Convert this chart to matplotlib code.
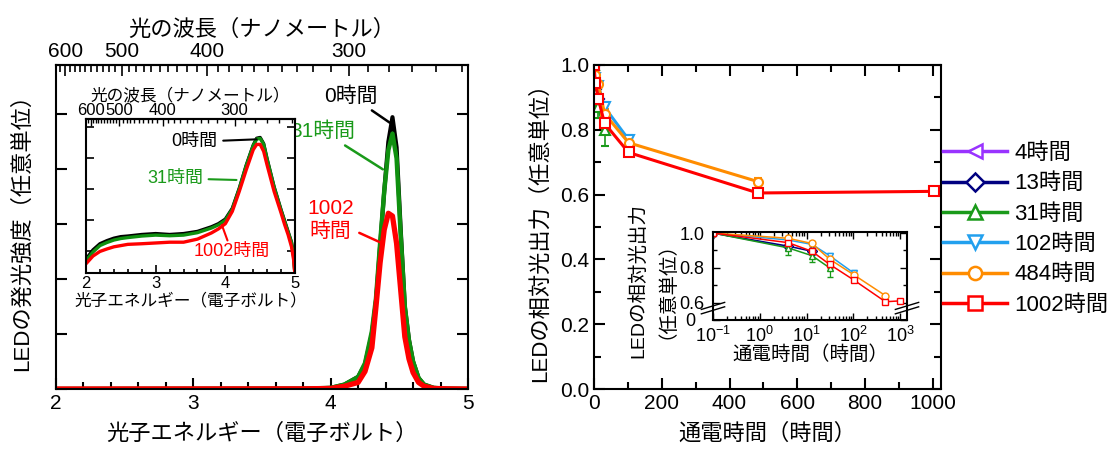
import numpy as np
import matplotlib
matplotlib.use("Agg")
import matplotlib.pyplot as plt
from matplotlib.lines import Line2D
from matplotlib.ticker import MultipleLocator, FixedLocator, NullFormatter, LogLocator

plt.rcParams['font.family'] = ['Liberation Sans', 'Noto Sans CJK JP']
plt.rcParams['mathtext.fontset'] = 'custom'
plt.rcParams['mathtext.rm'] = 'Liberation Sans'
plt.rcParams['mathtext.it'] = 'Liberation Sans:italic'
plt.rcParams['mathtext.bf'] = 'Liberation Sans:bold'
plt.rcParams['xtick.direction'] = 'in'
plt.rcParams['ytick.direction'] = 'in'
plt.rcParams['axes.linewidth'] = 1.5

# --- emission spectra (main, linear scale) ---
energy = [2.0, 3.8, 4.0, 4.1, 4.2, 4.25, 4.3, 4.33, 4.36, 4.39, 4.42, 4.45,
          4.48, 4.51, 4.54, 4.57, 4.6, 4.64, 4.68, 4.75, 4.85, 5.0]
spec_0h = [0, 0.005, 0.02, 0.08, 0.22, 0.45, 1.0, 1.6, 2.6, 3.6, 4.5, 4.95,
           4.4, 2.9, 1.5, 0.9, 0.5, 0.2, 0.08, 0.02, 0.005, 0]
spec_31h = [0, 0.005, 0.02, 0.08, 0.22, 0.47, 1.05, 1.65, 2.65, 3.6, 4.35, 4.65,
            4.2, 2.8, 1.5, 0.88, 0.5, 0.2, 0.08, 0.02, 0.005, 0]
spec_1002h = [0, 0.003, 0.01, 0.05, 0.12, 0.32, 0.75, 1.5, 2.3, 2.9, 3.2, 3.15,
              2.65, 1.8, 0.95, 0.55, 0.3, 0.12, 0.05, 0.01, 0.003, 0]

# --- emission spectra (inset, log10 of intensity) ---
inset_energy = [2.0, 2.1, 2.2, 2.3, 2.4, 2.5, 2.6, 2.8, 3.0, 3.2, 3.4, 3.6, 3.8, 3.9,
                4.0, 4.1, 4.2, 4.3, 4.4, 4.45, 4.5, 4.55, 4.6, 4.7, 4.8, 4.85, 4.9,
                4.95, 4.98, 5.0]
inset_log_0h = [-3.28, -2.98, -2.78, -2.68, -2.6, -2.55, -2.53, -2.48, -2.45, -2.48,
                -2.45, -2.38, -2.23, -2.13, -1.98, -1.63, -0.98, -0.23, 0.42, 0.645,
                0.67, 0.47, -0.03, -0.93, -1.68, -2.03, -2.38, -2.73, -3.13, -3.8]
inset_log_31h = [-3.33, -3.05, -2.84, -2.74, -2.66, -2.61, -2.58, -2.53, -2.5, -2.52,
                 -2.5, -2.42, -2.27, -2.17, -2.02, -1.66, -1.0, -0.25, 0.4, 0.62,
                 0.64, 0.45, -0.05, -0.95, -1.7, -2.05, -2.4, -2.75, -3.2, -3.8]
inset_log_1002h = [-3.43, -3.18, -3.03, -2.95, -2.88, -2.84, -2.8, -2.78, -2.755, -2.73,
                   -2.73, -2.63, -2.43, -2.3, -2.13, -1.73, -1.08, -0.38, 0.27, 0.445,
                   0.445, 0.22, -0.23, -1.08, -1.78, -2.15, -2.48, -2.88, -3.3, -3.8]

wl_major = [600, 500, 400, 300]

# --- relative output vs. operation time ---
hours = [0, 4, 13, 31, 102, 484, 1002]
series_labels = ['4時間', '13時間', '31時間', '102時間', '484時間', '1002時間']
out_4h = [1.0, 0.92]
out_13h = [1.0, 0.925, 0.895]
out_31h = [1.0, 0.915, 0.87, 0.80]
out_102h = [1.0, 0.96, 0.935, 0.87, 0.77]
out_484h = [1.0, 0.97, 0.94, 0.85, 0.76, 0.64]
out_1002h = [1.0, 0.945, 0.895, 0.82, 0.73, 0.605, 0.61]
err_4h = [0, 0.02]
err_13h = [0, 0.02, 0.02]
err_31h = [0, 0.04, 0.035, 0.05]
err_102h = [0, 0.01, 0.01, 0.015, 0.015]
err_484h = [0, 0.01, 0.01, 0.015, 0.01, 0.01]
err_1002h = [0, 0.01, 0.01, 0.02, 0.01, 0.008, 0.005]

outputs = [out_4h, out_13h, out_31h, out_102h, out_484h, out_1002h]
errors = [err_4h, err_13h, err_31h, err_102h, err_484h, err_1002h]
colors = ['#9933ff', '#000080', '#1a9a1a', '#22a0ee', '#ff8c00', '#ff0000']
markers = ['<', 'D', '^', 'v', 'o', 's']

W, H = 1113, 461
fig = plt.figure(figsize=(W / 100, H / 100), dpi=100)


def rect(x0, y0, x1, y1):
    return [x0 / W, 1 - y1 / H, (x1 - x0) / W, (y1 - y0) / H]


def ev_nm(x):
    x = np.asarray(x, dtype=float)
    with np.errstate(divide='ignore'):
        return 1239.84 / x


# ================= left panel =================
ax1 = fig.add_axes(rect(56, 65, 468, 389))
ax1.plot(energy, spec_0h, color='black', lw=3.0)
ax1.plot(energy, spec_31h, color='#109010', lw=3.2)
ax1.plot(energy, spec_1002h, color='#ff0000', lw=3.8)
ax1.set_xlim(2, 5)
ax1.set_ylim(0, 5.9)
ax1.xaxis.set_major_locator(MultipleLocator(1))
ax1.xaxis.set_minor_locator(MultipleLocator(0.2))
ax1.yaxis.set_major_locator(MultipleLocator(1))
ax1.tick_params(which='both', left=True, right=True, top=False, labelleft=False,
                labelsize=15, width=1.5)
ax1.tick_params(which='major', length=8)
ax1.tick_params(which='minor', length=5)
ax1.set_xlabel('光子エネルギー（電子ボルト）', fontsize=16, labelpad=8)
ax1.set_ylabel('LEDの発光強度（任意単位）', fontsize=16)
ax1.yaxis.set_label_coords(-0.055, 0.5)

sec1 = ax1.secondary_xaxis('top', functions=(ev_nm, ev_nm))
sec1.set_xticks(wl_major)
sec1.xaxis.set_minor_locator(FixedLocator(np.arange(250, 630, 10)))
sec1.tick_params(which='both', labelsize=15, width=1.2, pad=3)
sec1.tick_params(which='major', length=8)
sec1.tick_params(which='minor', length=5)
sec1.set_xlabel('光の波長（ナノメートル）', fontsize=16, labelpad=4)

ax1.annotate('0時間', xy=(4.43, 4.85), xytext=(4.345, 5.33), fontsize=15,
             ha='right', va='center', color='black',
             arrowprops=dict(arrowstyle='-', color='black', lw=1.8, shrinkA=2, shrinkB=0))
ax1.annotate('31時間', xy=(4.38, 4.0), xytext=(4.18, 4.69), fontsize=15,
             ha='right', va='center', color='#1a9a1a',
             arrowprops=dict(arrowstyle='-', color='#1a9a1a', lw=1.8, shrinkA=2, shrinkB=0))
ax1.annotate('1002\n時間', xy=(4.37, 2.66), xytext=(4.0, 3.08), fontsize=15,
             ha='center', va='center', color='#ff0000', linespacing=1.2,
             arrowprops=dict(arrowstyle='-', color='#ff0000', lw=1.8, shrinkA=2, shrinkB=0))

# inset: spectra on log intensity
ax2 = fig.add_axes(rect(86, 119, 295, 273))
ax2.plot(inset_energy, inset_log_0h, color='black', lw=2.4)
ax2.plot(inset_energy, inset_log_31h, color='#109010', lw=2.4)
ax2.plot(inset_energy, inset_log_1002h, color='#ff0000', lw=2.4)
ax2.set_xlim(2, 5)
ax2.set_ylim(-3.73, 1.27)
ax2.xaxis.set_major_locator(MultipleLocator(1))
ax2.xaxis.set_minor_locator(MultipleLocator(0.2))
ax2.yaxis.set_major_locator(MultipleLocator(1))
ax2.tick_params(which='both', left=True, right=True, top=False, labelleft=False,
                labelsize=12, width=1.2, pad=2)
ax2.tick_params(which='major', length=6)
ax2.tick_params(which='minor', length=3)
ax2.set_xlabel('光子エネルギー（電子ボルト）', fontsize=12, labelpad=1)
sec2 = ax2.secondary_xaxis('top', functions=(ev_nm, ev_nm))
sec2.set_xticks(wl_major)
sec2.xaxis.set_minor_locator(FixedLocator(np.arange(250, 630, 10)))
sec2.tick_params(which='both', labelsize=12, width=1.0, pad=1)
sec2.tick_params(which='major', length=5)
sec2.tick_params(which='minor', length=3)
sec2.set_xlabel('光の波長（ナノメートル）', fontsize=12, labelpad=2)

ax2.annotate('0時間', xy=(4.45, 0.61), xytext=(3.89, 0.53), fontsize=13,
             ha='right', va='center', color='black',
             arrowprops=dict(arrowstyle='-', color='black', lw=1.5, shrinkA=2, shrinkB=0))
ax2.annotate('31時間', xy=(4.16, -0.71), xytext=(3.68, -0.655), fontsize=13,
             ha='right', va='center', color='#1a9a1a',
             arrowprops=dict(arrowstyle='-', color='#1a9a1a', lw=1.5, shrinkA=2, shrinkB=0))
ax2.annotate('1002時間', xy=(3.95, -2.17), xytext=(4.09, -3.04), fontsize=13,
             ha='center', va='center', color='#ff0000',
             arrowprops=dict(arrowstyle='-', color='#ff0000', lw=1.5, shrinkA=0, shrinkB=0))

# ================= right panel =================
ax3 = fig.add_axes(rect(594, 65, 941, 389))
ax4 = fig.add_axes(rect(713, 232, 907, 320))
handles = []
for vals, err, col, mk, lab in zip(outputs, errors, colors, markers, series_labels):
    t = hours[:len(vals)]
    ax3.errorbar(t, vals, yerr=err, color=col, marker=mk, ms=6.5, mfc='white', mec=col,
                 mew=1.5, lw=2.2, capsize=3, elinewidth=1.2)
    t_log = [0.1 if v == 0 else v for v in t]
    ax4.errorbar(t_log, vals, yerr=err, color=col, marker=mk, ms=5, mfc='white', mec=col,
                 mew=1.0, lw=1.1, capsize=2, elinewidth=0.9)
    handles.append(Line2D([], [], color=col, lw=2.5, marker=mk, ms=9.5, mfc='white',
                          mec=col, mew=1.8, label=lab))

ax3.set_xlim(0, 1024)
ax3.set_ylim(0, 1.0)
ax3.xaxis.set_major_locator(MultipleLocator(200))
ax3.xaxis.set_minor_locator(MultipleLocator(100))
ax3.yaxis.set_major_locator(MultipleLocator(0.2))
ax3.yaxis.set_minor_locator(MultipleLocator(0.1))
ax3.yaxis.set_major_formatter(matplotlib.ticker.FormatStrFormatter('%.1f'))
ax3.tick_params(which='both', top=True, right=True, labelsize=15, width=1.5)
ax3.tick_params(which='major', length=8)
ax3.tick_params(which='minor', length=5)
ax3.set_xlabel('通電時間（時間）', fontsize=16, labelpad=8)
ax3.set_ylabel('LEDの相対光出力（任意単位）', fontsize=16)
ax3.yaxis.set_label_coords(-0.125, 0.5)

ax4.set_xscale('log')
ax4.set_xlim(0.1, 1400)
ax4.set_ylim(0.5, 1.006)
ax4.set_yticks([0.5, 0.6, 0.8, 1.0])
ax4.set_yticklabels(['0', '0.6', '0.8', '1.0'])
ax4.yaxis.set_minor_locator(FixedLocator([0.7, 0.9]))
ax4.xaxis.set_major_locator(LogLocator(base=10, numticks=10))
ax4.xaxis.set_minor_locator(LogLocator(base=10, subs=np.arange(2, 10), numticks=20))
ax4.xaxis.set_minor_formatter(NullFormatter())
ax4.tick_params(which='both', top=True, right=True, labelsize=13, width=1.0)
ax4.tick_params(axis='x', pad=4)
ax4.tick_params(axis='y', pad=6)
ax4.tick_params(which='major', length=5)
ax4.tick_params(which='minor', length=3)
ax4.set_xlabel('通電時間（時間）', fontsize=14, labelpad=0)
ax4.set_ylabel('LEDの相対光出力\n（任意単位）', fontsize=14, linespacing=1.0)
ax4.yaxis.set_label_coords(-0.24, 0.45)
# push the bottom "0" label a little further left so it clears 10^-1
ax4.yaxis.get_major_ticks()[0].set_pad(13)
# axis break marks on the inset y axis
for xa in (0.0, 1.0):
    for dy in (0.0, 0.05):
        ax4.plot([xa - 0.06, xa + 0.06], [0.07 + dy, 0.15 + dy], transform=ax4.transAxes,
                 color='black', lw=1.0, clip_on=False)

fig.legend(handles=handles, loc='upper left', bbox_to_anchor=(943 / W, 1 - 143 / H),
           frameon=False, fontsize=16, handlelength=2.9, handletextpad=0.3,
           labelspacing=0.42, borderpad=0, borderaxespad=0)

fig.savefig('out.png', dpi=100)
